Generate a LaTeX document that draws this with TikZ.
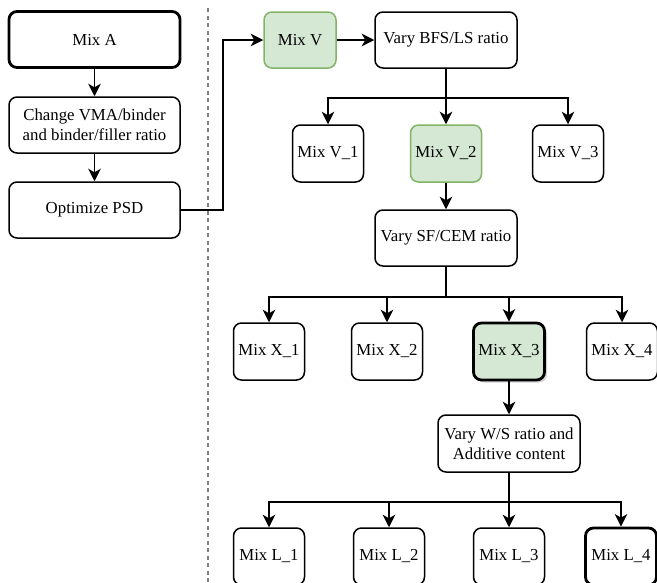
\documentclass[tikz,border=0pt]{standalone}
\usepackage{fontspec}
\setmainfont{Liberation Serif}
\usetikzlibrary{arrows.meta,shadows}
\definecolor{gfill}{HTML}{D5E8D4}
\definecolor{gline}{HTML}{82B366}
\begin{document}
\begin{tikzpicture}[x=1pt,y=-1pt,
  box/.style={draw=black,line width=1.5pt,rounded corners=8pt,fill=white,align=center,
    inner sep=0pt,font=\fontsize{16.8}{20}\selectfont},
  wide/.style={box,minimum width=171pt,minimum height=56pt},
  mid/.style={box,minimum width=142pt,minimum height=56pt},
  small/.style={box,minimum width=71pt,minimum height=57pt},
  bold/.style={line width=2.8pt},
  green/.style={fill=gfill,draw=gline},
  arr/.style={line width=1.6pt,-{Stealth[length=12.5pt,width=12.5pt,inset=3.5pt]}},
  sep/.style={draw=gray,line width=1.2pt,dash pattern=on 4pt off 3.5pt}]
\useasboundingbox (0,0) rectangle (657,582);
\coordinate (st) at (208,8);
\coordinate (sb) at (208,582);
\draw[sep] (st) -- (sb);

\node[wide,bold] (mixA) at (94.5,39.5) {Mix A};
\node[wide] (chg) at (94.5,125) {Change VMA/binder\\and binder/filler ratio};
\node[wide] (opt) at (94.5,210) {Optimize PSD};

\node[small,green,minimum width=72pt,minimum height=56pt] (mixV) at (300,40) {Mix V};
\node[mid] (bfs) at (446,40) {Vary BFS/LS ratio};
\node[small] (v1) at (328,153.5) {Mix V\_1};
\node[small,green] (v2) at (446,153.5) {Mix V\_2};
\node[small] (v3) at (568,153.5) {Mix V\_3};
\node[mid] (sf) at (446,238) {Vary SF/CEM ratio};
\node[small] (x1) at (269,351.5) {Mix X\_1};
\node[small] (x2) at (387,351.5) {Mix X\_2};
\node[small,green,draw=black,bold,drop shadow={shadow xshift=2.5pt,shadow yshift=-2.5pt,opacity=0.35}] (x3) at (509,351.5) {Mix X\_3};
\node[small] (x4) at (622,351.5) {Mix X\_4};
\node[mid,minimum height=57pt] (ws) at (509,443.5) {Vary W/S ratio and\\Additive content};
\node[small] (l1) at (269,556.5) {Mix L\_1};
\node[small] (l2) at (389,556.5) {Mix L\_2};
\node[small] (l3) at (509,556.5) {Mix L\_3};
\node[small,bold] (l4) at (621,556.5) {Mix L\_4};

\draw[arr] (mixA) -- (chg);
\draw[arr] (chg) -- (opt);
\draw[arr] (opt.east) -- ++(42,0) |- (mixV.west);
\draw[arr] (mixV) -- (bfs);
\foreach \t in {v1,v2,v3} \draw[arr] (bfs.south) -- ++(0,29) -| (\t.north);
\draw[arr] (v2) -- (sf);
\foreach \t in {x1,x2,x3,x4} \draw[arr] (sf.south) -- ++(0,30) -| (\t.north);
\draw[arr] (x3) -- (ws);
\foreach \t in {l1,l2,l3,l4} \draw[arr] (ws.south) -- ++(0,29) -| (\t.north);
\end{tikzpicture}
\end{document}
